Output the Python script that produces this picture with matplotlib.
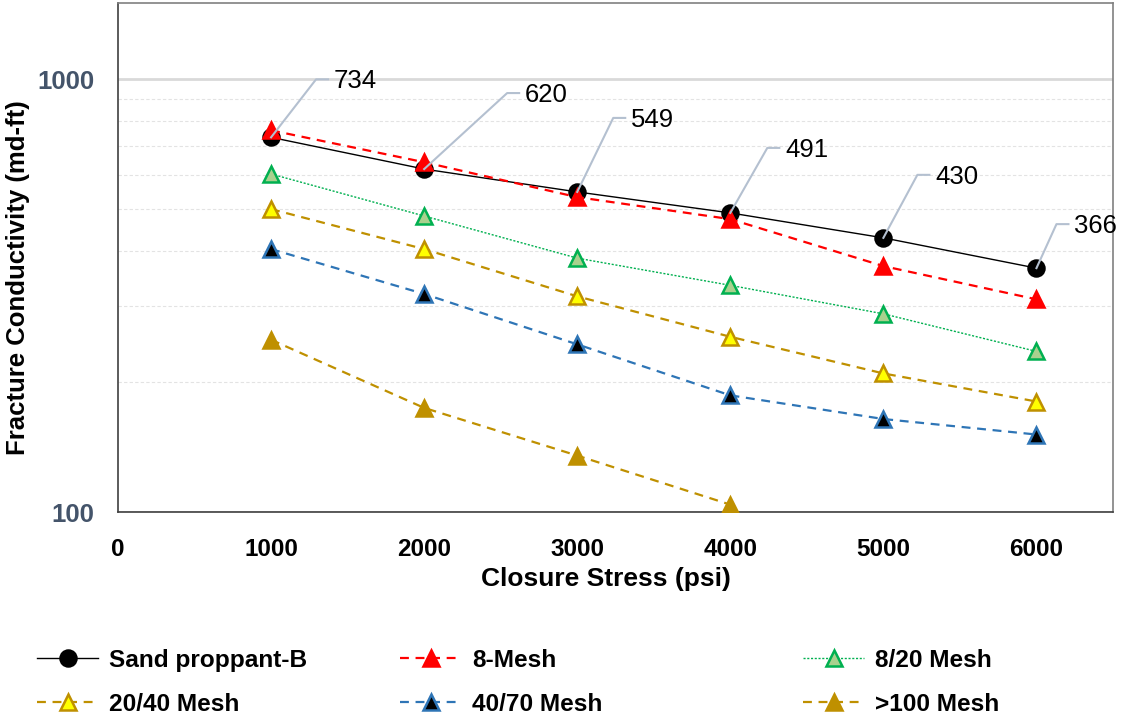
import matplotlib
matplotlib.use("Agg")
import matplotlib.pyplot as plt
from matplotlib.ticker import FixedLocator, NullFormatter
import numpy as np

plt.rcParams['font.family'] = ['Liberation Sans', 'DejaVu Sans']

# data
stress = [1000, 2000, 3000, 4000, 5000, 6000]
sand_b = [734, 620, 549, 491, 430, 366]
mesh_8 = [762, 643, 534, 475, 370, 310]
mesh_8_20 = [604, 483, 386, 334, 287, 235]
mesh_20_40 = [501, 405, 315, 254, 209, 180]
mesh_40_70 = [405, 319, 244, 186, 164, 151]
mesh_100 = [250, 174, 135, 104]
series_names = ["Sand proppant-B", "8-Mesh", "8/20 Mesh",
                "20/40 Mesh", "40/70 Mesh", ">100 Mesh"]

W, H = 1121, 719
fig = plt.figure(figsize=(W / 100, H / 100), dpi=100)
ax = fig.add_axes([118 / W, 1 - 512 / H, 995 / W, 509 / H])

styles = [
    dict(color="black", lw=1.0, ls="-", marker="o", mfc="black", mec="black"),
    dict(color="#FF0000", lw=1.6, ls=(0, (4, 3)), marker="^", mfc="#FF0000", mec="#FF0000"),
    dict(color="#00B050", lw=1.0, ls=(0, (1.5, 1.2)), marker="^", mfc="#A9D18E", mec="#00B050"),
    dict(color="#BF9000", lw=1.6, ls=(0, (4, 3)), marker="^", mfc="#FFFF00", mec="#BF9000"),
    dict(color="#2E75B6", lw=1.6, ls=(0, (4, 3)), marker="^", mfc="black", mec="#2E75B6"),
    dict(color="#BF9000", lw=1.6, ls=(0, (4, 3)), marker="^", mfc="#BF9000", mec="#BF9000"),
]
all_y = [sand_b, mesh_8, mesh_8_20, mesh_20_40, mesh_40_70, mesh_100]
handles = []
for i, (ys, st) in enumerate(zip(all_y, styles)):
    h, = ax.plot(stress[:len(ys)], ys, ms=11.5, mew=1.8, label=series_names[i],
                 zorder=3 + i, **st)
    handles.append(h)

ax.set_yscale("log")
ax.set_xlim(0, 6500)
ax.set_ylim(100, 1500)
ax.set_xticks(range(0, 7000, 1000))
ax.yaxis.set_major_locator(FixedLocator([100, 1000]))
ax.yaxis.set_minor_locator(FixedLocator([200, 300, 400, 500, 600, 700, 800, 900]))
ax.yaxis.set_minor_formatter(NullFormatter())
ax.set_yticklabels(["100", "1000"])
ax.tick_params(axis="both", which="both", length=0)
ax.tick_params(axis="x", pad=19, labelsize=17.5)
ax.tick_params(axis="y", pad=17, labelsize=18.5, labelcolor="#44546A")
for lab in ax.get_xticklabels() + ax.get_yticklabels():
    lab.set_fontweight("bold")

ax.grid(axis="y", which="major", color="#D9D9D9", lw=2.0)
ax.grid(axis="y", which="minor", color="#E3E3E3", lw=0.8, ls=(0, (3, 2)))
ax.set_axisbelow(True)
for sp in ax.spines.values():
    sp.set_color("#808080")
    sp.set_linewidth(1.2)
ax.spines["left"].set_color("#404040")
ax.spines["bottom"].set_color("#404040")

ax.set_xlabel("Closure Stress (psi)", fontsize=19, fontweight="bold")
ax.xaxis.set_label_coords(0.49, -0.108)
ax.set_ylabel("Fracture Conductivity (md-ft)", fontsize=18.5, fontweight="bold")
ax.yaxis.set_label_coords(-0.0884, 0.46)

# data labels with leader lines (offsets in pixels: elbow dx, dy)
label_offsets = [(45, 58), (83, 76), (36, 74), (37, 65), (34, 63), (20, 44)]
to_data = ax.transData.inverted()
for x, y, (dx, dy) in zip(stress, sand_b, label_offsets):
    px, py = ax.transData.transform((x, y))
    pts = np.array([[px, py], [px + dx, py + dy], [px + dx + 12, py + dy]])
    d = to_data.transform(pts)
    ax.plot(d[:, 0], d[:, 1], color="#B4C0D0", lw=1.5, zorder=20, clip_on=False)
    tx, ty = to_data.transform((px + dx + 18, py + dy - 2))
    ax.text(tx, ty, str(y), fontsize=18.5, ha="left", va="center", zorder=21)

# legend in three columns
col_x = [37, 400, 803]
for c in range(3):
    hs = [handles[c], handles[c + 3]]
    fig.legend(hs, [h.get_label() for h in hs], loc="upper left",
               bbox_to_anchor=(col_x[c] / W, 1 - 649 / H), frameon=False,
               prop=dict(size=17.6, weight="bold"), handlelength=2.5,
               handletextpad=0.45, labelspacing=0.85, borderpad=0,
               borderaxespad=0, markerscale=1.0)

fig.savefig("out.png", dpi=100)
